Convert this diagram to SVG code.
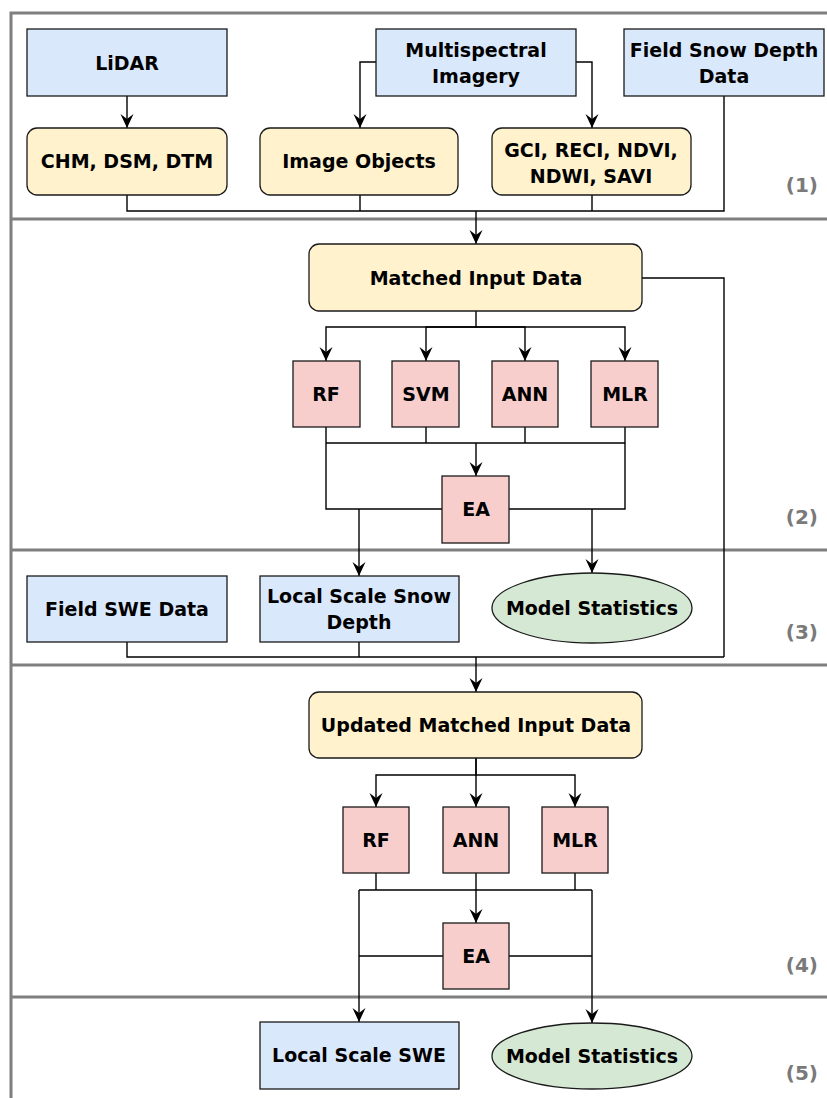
<svg xmlns="http://www.w3.org/2000/svg" width="827" height="1098" viewBox="0 0 827 1098">
  <style>
    .frame { fill: none; stroke: #7f7f7f; stroke-width: 3; }
    .data { fill: #dae8fc; stroke: #1a1a1a; stroke-width: 1.3; }
    .derived { fill: #fff2cc; stroke: #1a1a1a; stroke-width: 1.3; }
    .model { fill: #f8cecc; stroke: #1a1a1a; stroke-width: 1.3; }
    .stats { fill: #d5e8d4; stroke: #1a1a1a; stroke-width: 1.3; }
    .edge { fill: none; stroke: #000; stroke-width: 1.4; }
    .arrow { marker-end: url(#head); }
    text { font-family: "DejaVu Sans", Verdana, sans-serif; font-weight: bold; font-size: 19px; fill: #000; text-anchor: middle; }
    text.step { font-size: 20px; fill: #7a7a7a; text-anchor: end; }
  </style>
  <defs>
    <marker id="head" markerUnits="userSpaceOnUse" markerWidth="16" markerHeight="16" viewBox="0 0 16 16" refX="14" refY="8" orient="auto">
      <path d="M0,1.5 L14,8 L0,14.5 L5,8 z" fill="#000"/>
    </marker>
  </defs>

  <rect width="827" height="1098" fill="#fff"/>

  <!-- section frame -->
  <g id="frame">
    <path class="frame" d="M11,1098 V13 H827"/>
    <path class="frame" d="M11,219 H827 M11,550 H827 M11,665 H827 M11,997 H827"/>
    <text class="step" x="818" y="192">(1)</text>
    <text class="step" x="818" y="524">(2)</text>
    <text class="step" x="818" y="639">(3)</text>
    <text class="step" x="818" y="972">(4)</text>
    <text class="step" x="818" y="1080">(5)</text>
  </g>

  <!-- connectors -->
  <g id="connectors">
    <path class="edge arrow" d="M127,96 V128"/>
    <path class="edge arrow" d="M376,62 H360 V128"/>
    <path class="edge arrow" d="M576,62 H592 V128"/>
    <path class="edge" d="M127,195 V211 H724 V96"/>
    <path class="edge" d="M360,195 V211 M592,195 V211"/>
    <path class="edge arrow" d="M476,211 V244"/>

    <path class="edge arrow" d="M476,311 V327 H326 V361"/>
    <path class="edge arrow" d="M476,327 H426 V361"/>
    <path class="edge arrow" d="M476,327 H525 V361"/>
    <path class="edge arrow" d="M476,327 H625 V361"/>
    <path class="edge" d="M642,278 H724 V657"/>
    <path class="edge" d="M326,427 V509 H442"/>
    <path class="edge" d="M625,427 V509 H509"/>
    <path class="edge" d="M426,427 V443 M525,427 V443 M326,443 H625"/>
    <path class="edge arrow" d="M476,443 V476"/>
    <path class="edge arrow" d="M359,509 V576"/>
    <path class="edge arrow" d="M592,509 V573"/>

    <path class="edge" d="M127,642 V657 H724 M359,642 V657"/>
    <path class="edge arrow" d="M476,657 V692"/>

    <path class="edge arrow" d="M476,758 V775 H376 V807"/>
    <path class="edge arrow" d="M476,775 H575 V807"/>
    <path class="edge arrow" d="M476,758 V807"/>
    <path class="edge" d="M376,873 V890 M575,873 V890 M359,890 H592"/>
    <path class="edge arrow" d="M476,873 V923"/>
    <path class="edge arrow" d="M359,890 V1022"/>
    <path class="edge arrow" d="M592,890 V1023"/>
    <path class="edge" d="M359,956 H443 M509,956 H592"/>
  </g>

  <!-- (1) inputs -->
  <g id="lidar">
    <rect class="data" x="27" y="29" width="200" height="67"/>
    <text x="127" y="70">LiDAR</text>
  </g>
  <g id="multispectral">
    <rect class="data" x="376" y="29" width="200" height="67"/>
    <text x="476" y="57">Multispectral</text>
    <text x="476" y="83">Imagery</text>
  </g>
  <g id="field-snow-depth">
    <rect class="data" x="624" y="29" width="200" height="67"/>
    <text x="724" y="57">Field Snow Depth</text>
    <text x="724" y="83">Data</text>
  </g>
  <g id="chm-dsm-dtm">
    <rect class="derived" x="27" y="128" width="200" height="67" rx="10"/>
    <text x="127" y="168">CHM, DSM, DTM</text>
  </g>
  <g id="image-objects">
    <rect class="derived" x="260" y="128" width="198" height="67" rx="10"/>
    <text x="359" y="168">Image Objects</text>
  </g>
  <g id="indices">
    <rect class="derived" x="492" y="128" width="199" height="67" rx="10"/>
    <text x="591" y="157">GCI, RECI, NDVI,</text>
    <text x="591" y="183">NDWI, SAVI</text>
  </g>

  <!-- (2) snow depth models -->
  <g id="matched-input">
    <rect class="derived" x="309" y="244" width="333" height="67" rx="10"/>
    <text x="476" y="285">Matched Input Data</text>
  </g>
  <g id="rf1">
    <rect class="model" x="293" y="361" width="67" height="66"/>
    <text x="326" y="401">RF</text>
  </g>
  <g id="svm1">
    <rect class="model" x="392" y="361" width="67" height="66"/>
    <text x="426" y="401">SVM</text>
  </g>
  <g id="ann1">
    <rect class="model" x="492" y="361" width="66" height="66"/>
    <text x="525" y="401">ANN</text>
  </g>
  <g id="mlr1">
    <rect class="model" x="591" y="361" width="67" height="66"/>
    <text x="625" y="401">MLR</text>
  </g>
  <g id="ea1">
    <rect class="model" x="442" y="476" width="67" height="67"/>
    <text x="476" y="516">EA</text>
  </g>

  <!-- (3) snow depth outputs -->
  <g id="field-swe">
    <rect class="data" x="27" y="576" width="200" height="66"/>
    <text x="127" y="616">Field SWE Data</text>
  </g>
  <g id="local-snow-depth">
    <rect class="data" x="260" y="576" width="199" height="66"/>
    <text x="359" y="603">Local Scale Snow</text>
    <text x="359" y="629">Depth</text>
  </g>
  <g id="stats1">
    <ellipse class="stats" cx="592" cy="608" rx="100" ry="35"/>
    <text x="592" y="615">Model Statistics</text>
  </g>

  <!-- (4) SWE models -->
  <g id="updated-input">
    <rect class="derived" x="309" y="692" width="333" height="66" rx="10"/>
    <text x="476" y="732">Updated Matched Input Data</text>
  </g>
  <g id="rf2">
    <rect class="model" x="343" y="807" width="66" height="66"/>
    <text x="376" y="847">RF</text>
  </g>
  <g id="ann2">
    <rect class="model" x="443" y="807" width="66" height="66"/>
    <text x="476" y="847">ANN</text>
  </g>
  <g id="mlr2">
    <rect class="model" x="542" y="807" width="66" height="66"/>
    <text x="575" y="847">MLR</text>
  </g>
  <g id="ea2">
    <rect class="model" x="443" y="923" width="66" height="66"/>
    <text x="476" y="963">EA</text>
  </g>

  <!-- (5) SWE outputs -->
  <g id="local-swe">
    <rect class="data" x="260" y="1022" width="199" height="67"/>
    <text x="359" y="1062">Local Scale SWE</text>
  </g>
  <g id="stats2">
    <ellipse class="stats" cx="592" cy="1056" rx="100" ry="33"/>
    <text x="592" y="1063">Model Statistics</text>
  </g>
</svg>
